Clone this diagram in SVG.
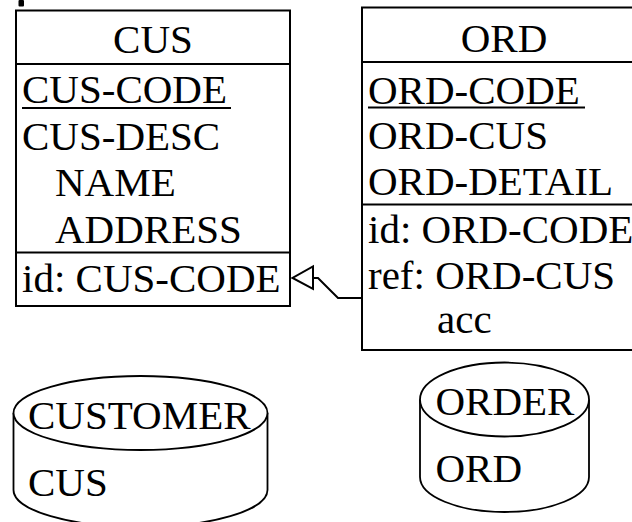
<svg xmlns="http://www.w3.org/2000/svg" width="632" height="522" viewBox="0 0 632 522">
<style>
text{font-family:"Liberation Serif","Times New Roman",serif;font-size:41px;fill:#000}
.box{fill:#fff;stroke:#000;stroke-width:2}
.ln{stroke:#000;stroke-width:2;fill:none}
.cyl{fill:#fff;stroke:#000;stroke-width:1.8}
.mid{text-anchor:middle}
</style>
<defs>
<marker id="tri" markerUnits="userSpaceOnUse" viewBox="-2 -2 25 27" markerWidth="25" markerHeight="27" refX="0" refY="10.8" orient="auto" overflow="visible">
<path d="M0,0 L20.5,10.8 L0,22.3 Z" fill="#fff" stroke="#000" stroke-width="2"/>
</marker>
</defs>
<rect x="18.5" y="0" width="5.5" height="6.5" rx="1" fill="#000"/>
<g id="CUS">
<rect class="box" x="16" y="10.5" width="274" height="295.5"/>
<line class="ln" x1="16" y1="64" x2="291" y2="64"/>
<line class="ln" x1="16" y1="252.5" x2="291" y2="252.5"/>
<text class="mid" x="153" y="53">CUS</text>
<text x="22" y="103">CUS-CODE</text>
<line class="ln" x1="22" y1="108" x2="231" y2="108"/>
<text x="22" y="149.5">CUS-DESC</text>
<text x="55" y="196">NAME</text>
<text x="55" y="243">ADDRESS</text>
<text x="22" y="292">id: CUS-CODE</text>
</g>
<g id="ORD">
<rect class="box" x="362" y="7.5" width="290" height="342.5"/>
<line class="ln" x1="362" y1="62" x2="632" y2="62"/>
<line class="ln" x1="362" y1="204.5" x2="632" y2="204.5"/>
<text class="mid" x="504" y="52">ORD</text>
<text x="368" y="104">ORD-CODE</text>
<line class="ln" x1="368" y1="107.5" x2="585" y2="107.5"/>
<text x="368" y="149">ORD-CUS</text>
<text x="368" y="195">ORD-DETAIL</text>
<text x="368" y="243">id: ORD-CODE</text>
<text x="368" y="288.5">ref: ORD-CUS</text>
<text x="437" y="333">acc</text>
</g>
<g id="connectors">
<path class="ln" d="M362,298 L338,298 L318,278 L313,278" marker-end="url(#tri)"/>
</g>
<g id="CUSTOMER">
<path class="cyl" d="M13.5,413 L13.5,490 A127,37 0 0 0 267.5,490 L267.5,413"/>
<ellipse class="cyl" cx="140.5" cy="413" rx="127" ry="37"/>
<text x="28" y="429">CUSTOMER</text>
<text x="28" y="496">CUS</text>
</g>
<g id="ORDER">
<path class="cyl" d="M420,399.5 L420,477 A84.5,35 0 0 0 589,477 L589,399.5"/>
<ellipse class="cyl" cx="504.5" cy="399.5" rx="84.5" ry="37"/>
<text x="435.5" y="415">ORDER</text>
<text x="435.5" y="482">ORD</text>
</g>
</svg>
